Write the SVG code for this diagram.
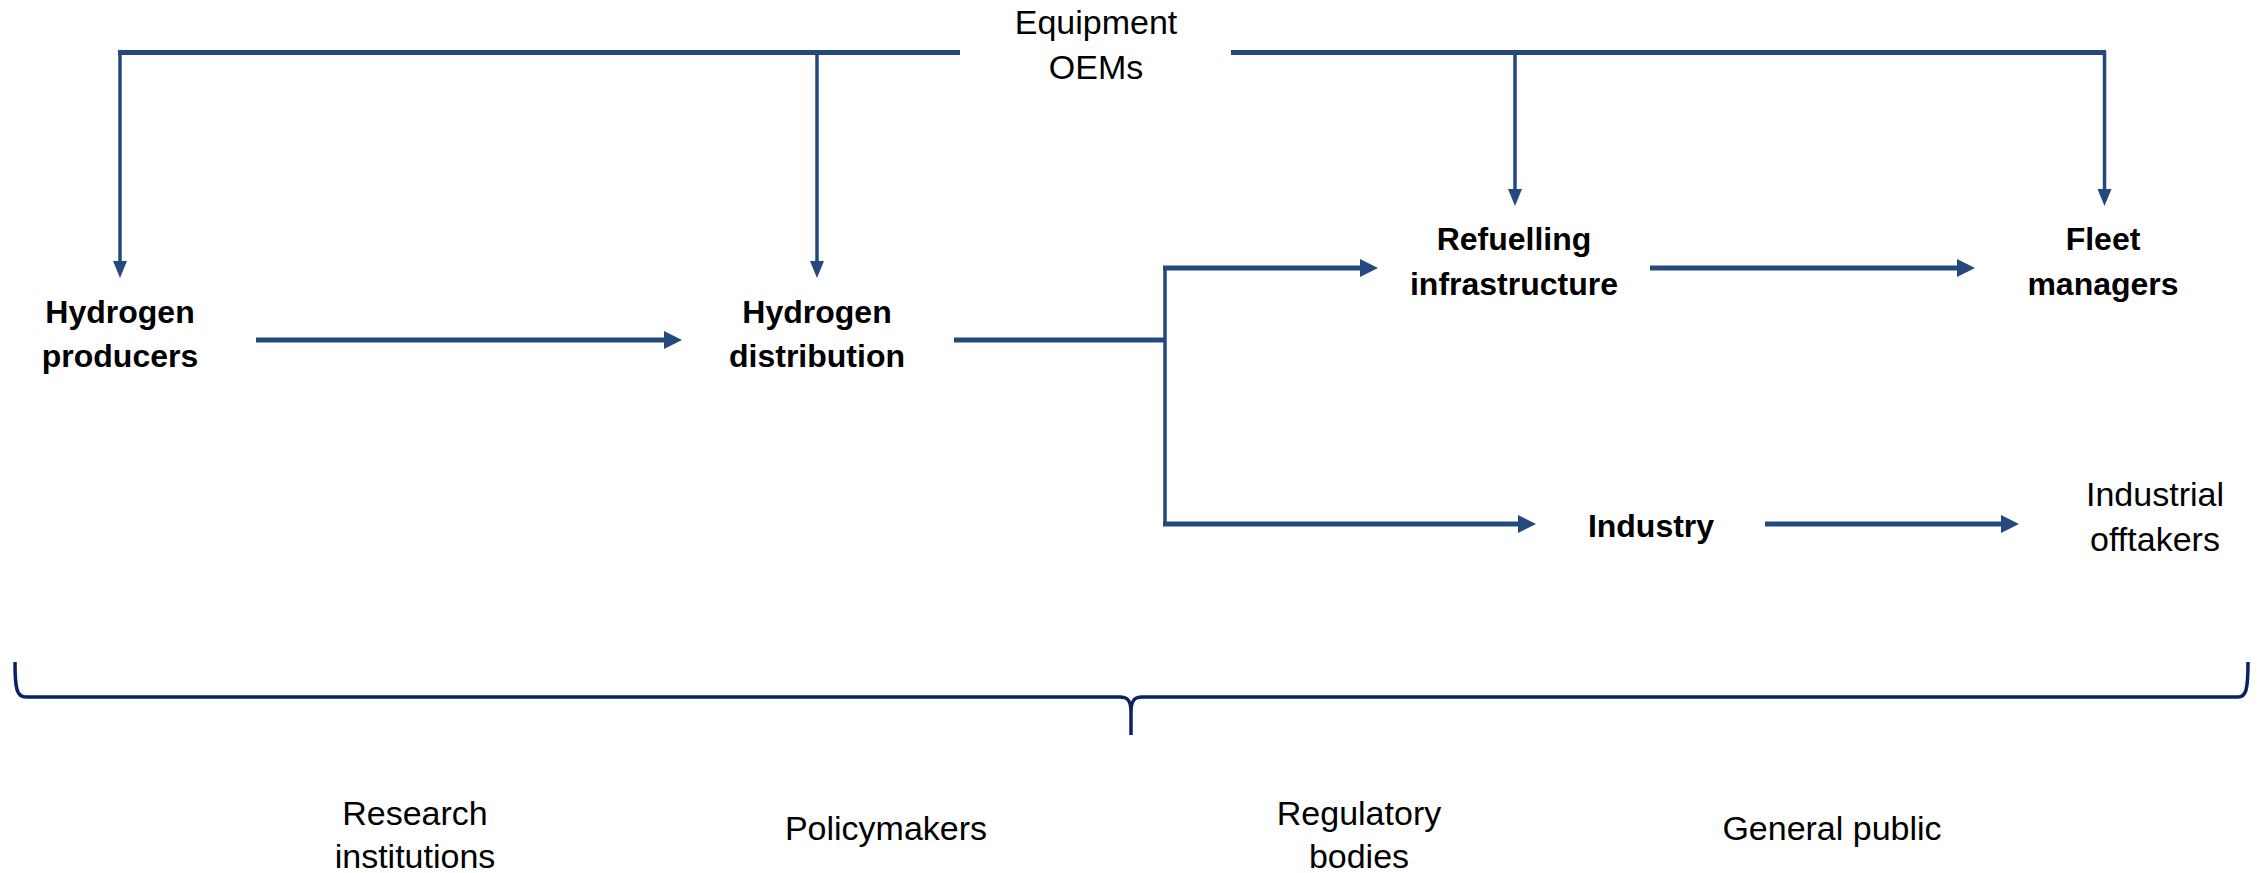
<svg xmlns="http://www.w3.org/2000/svg" width="2259" height="873" viewBox="0 0 2259 873">
<defs>
<style>
.t{font-family:"Liberation Sans",Arial,sans-serif;font-size:34px;fill:#000;text-anchor:middle}
.b{font-weight:bold;font-size:32px}
.c{fill:none;stroke:#24497D}
.h{stroke-width:5}
.v{stroke-width:3.5}
.br{fill:none;stroke:#0A2263;stroke-width:3.5;stroke-linejoin:round}
</style>
<marker id="ah" markerWidth="18" markerHeight="18" refX="8" refY="9" orient="auto" markerUnits="userSpaceOnUse"><path d="M0,0 L18,9 L0,18 z" fill="#24497D"/></marker>
<marker id="as" markerWidth="17" markerHeight="14" refX="7" refY="7" orient="auto" markerUnits="userSpaceOnUse"><path d="M0,0 L17,7 L0,14 z" fill="#24497D"/></marker>
</defs>
<rect width="2259" height="873" fill="#fff"/>
<g id="connectors">
<path class="c h" d="M960,52.5 H118"/>
<path class="c v" d="M120,51 V268" marker-end="url(#as)"/>
<path class="c v" d="M817,51 V268" marker-end="url(#as)"/>
<path class="c h" d="M1231,52.5 H2106"/>
<path class="c v" d="M1515,51 V196" marker-end="url(#as)"/>
<path class="c v" d="M2104.5,51 V196" marker-end="url(#as)"/>
<path class="c h" d="M256,340 H672" marker-end="url(#ah)"/>
<path class="c h" d="M954,340 H1166"/>
<path class="c v" d="M1165,266 V526"/>
<path class="c h" d="M1163,268 H1368" marker-end="url(#ah)"/>
<path class="c h" d="M1163,524 H1526" marker-end="url(#ah)"/>
<path class="c h" d="M1650,268 H1965" marker-end="url(#ah)"/>
<path class="c h" d="M1765,524 H2009" marker-end="url(#ah)"/>
<path class="br" d="M15,662 C15,690 17,697 26,697 L1120,697 C1127,697 1131,700 1131,712 L1131,735 M1131,712 C1131,700 1135,697 1142,697 L2238,697 C2246,697 2248,690 2248,662"/>
</g>
<g id="equipment-oems"><text class="t" x="1096" y="34">Equipment</text><text class="t" x="1096" y="79">OEMs</text></g>
<g id="hydrogen-producers"><text class="t b" x="120" y="323">Hydrogen</text><text class="t b" x="120" y="367">producers</text></g>
<g id="hydrogen-distribution"><text class="t b" x="817" y="323">Hydrogen</text><text class="t b" x="817" y="367">distribution</text></g>
<g id="refuelling-infrastructure"><text class="t b" x="1514" y="250">Refuelling</text><text class="t b" x="1514" y="295">infrastructure</text></g>
<g id="fleet-managers"><text class="t b" x="2103" y="250">Fleet</text><text class="t b" x="2103" y="295">managers</text></g>
<g id="industry"><text class="t b" x="1651" y="537">Industry</text></g>
<g id="industrial-offtakers"><text class="t" x="2155" y="506">Industrial</text><text class="t" x="2155" y="551">offtakers</text></g>
<g id="research-institutions"><text class="t" x="415" y="825">Research</text><text class="t" x="415" y="868">institutions</text></g>
<g id="policymakers"><text class="t" x="886" y="840">Policymakers</text></g>
<g id="regulatory-bodies"><text class="t" x="1359" y="825">Regulatory</text><text class="t" x="1359" y="868">bodies</text></g>
<g id="general-public"><text class="t" x="1832" y="840">General public</text></g>
</svg>
